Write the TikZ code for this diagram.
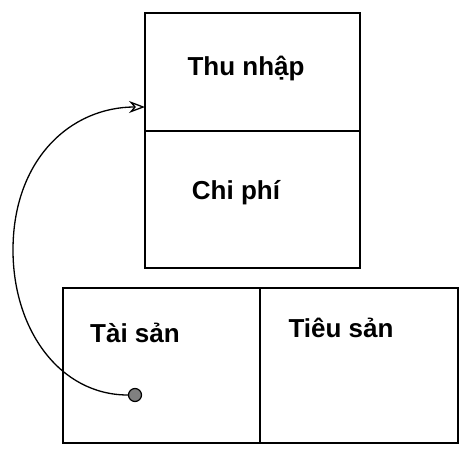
\documentclass[tikz,border=0pt]{standalone}
\usepackage{fontspec}
\setmainfont{Liberation Sans}
\usetikzlibrary{positioning}
\usetikzlibrary{arrows.meta}

\tikzset{
  cell/.style={draw, line width=1.8pt, inner sep=0pt, outer sep=0pt, anchor=north west},
  lbl/.style={font=\bfseries\fontsize{26}{30}\selectfont, inner sep=0pt},
  dot/.style={circle, draw, line width=1.2pt, fill=gray, inner sep=0pt, minimum size=13pt}
}

\begin{document}
\begin{tikzpicture}[x=1pt,y=-1pt]
\useasboundingbox (0,0) rectangle (466,456);

% upper account
\node[cell, minimum width=215pt, minimum height=118pt] (thunhap) at (145,13) {};
\node[cell, minimum width=215pt, minimum height=137pt] (chiphi) at (thunhap.south west) {};

\node[lbl] (thunhaplbl) at (246,68) {Thu nhập};
\node[lbl] (chiphilbl) at (236,193) {Chi phí};

% lower account
\node[cell, minimum width=197pt, minimum height=155pt] (taisan) at (63,288) {};
\node[cell, minimum width=198pt, minimum height=155pt] (tieusan) at (taisan.north east) {};

\node[lbl] (taisanlbl) at (135,333) {Tài sản};
\node[lbl] (tieusanlbl) at (341,328) {Tiêu sản};

% transfer
\node[dot] (src) at (135,395) {};
\coordinate (dst) at (145,107);
\draw[line width=1.3pt, -{Stealth[length=16pt, width=12pt, open]}] (src.west) .. controls (60,395) and (13,330) .. (13,250) .. controls (13,160) and (70,107) .. (dst);

\end{tikzpicture}
\end{document}
